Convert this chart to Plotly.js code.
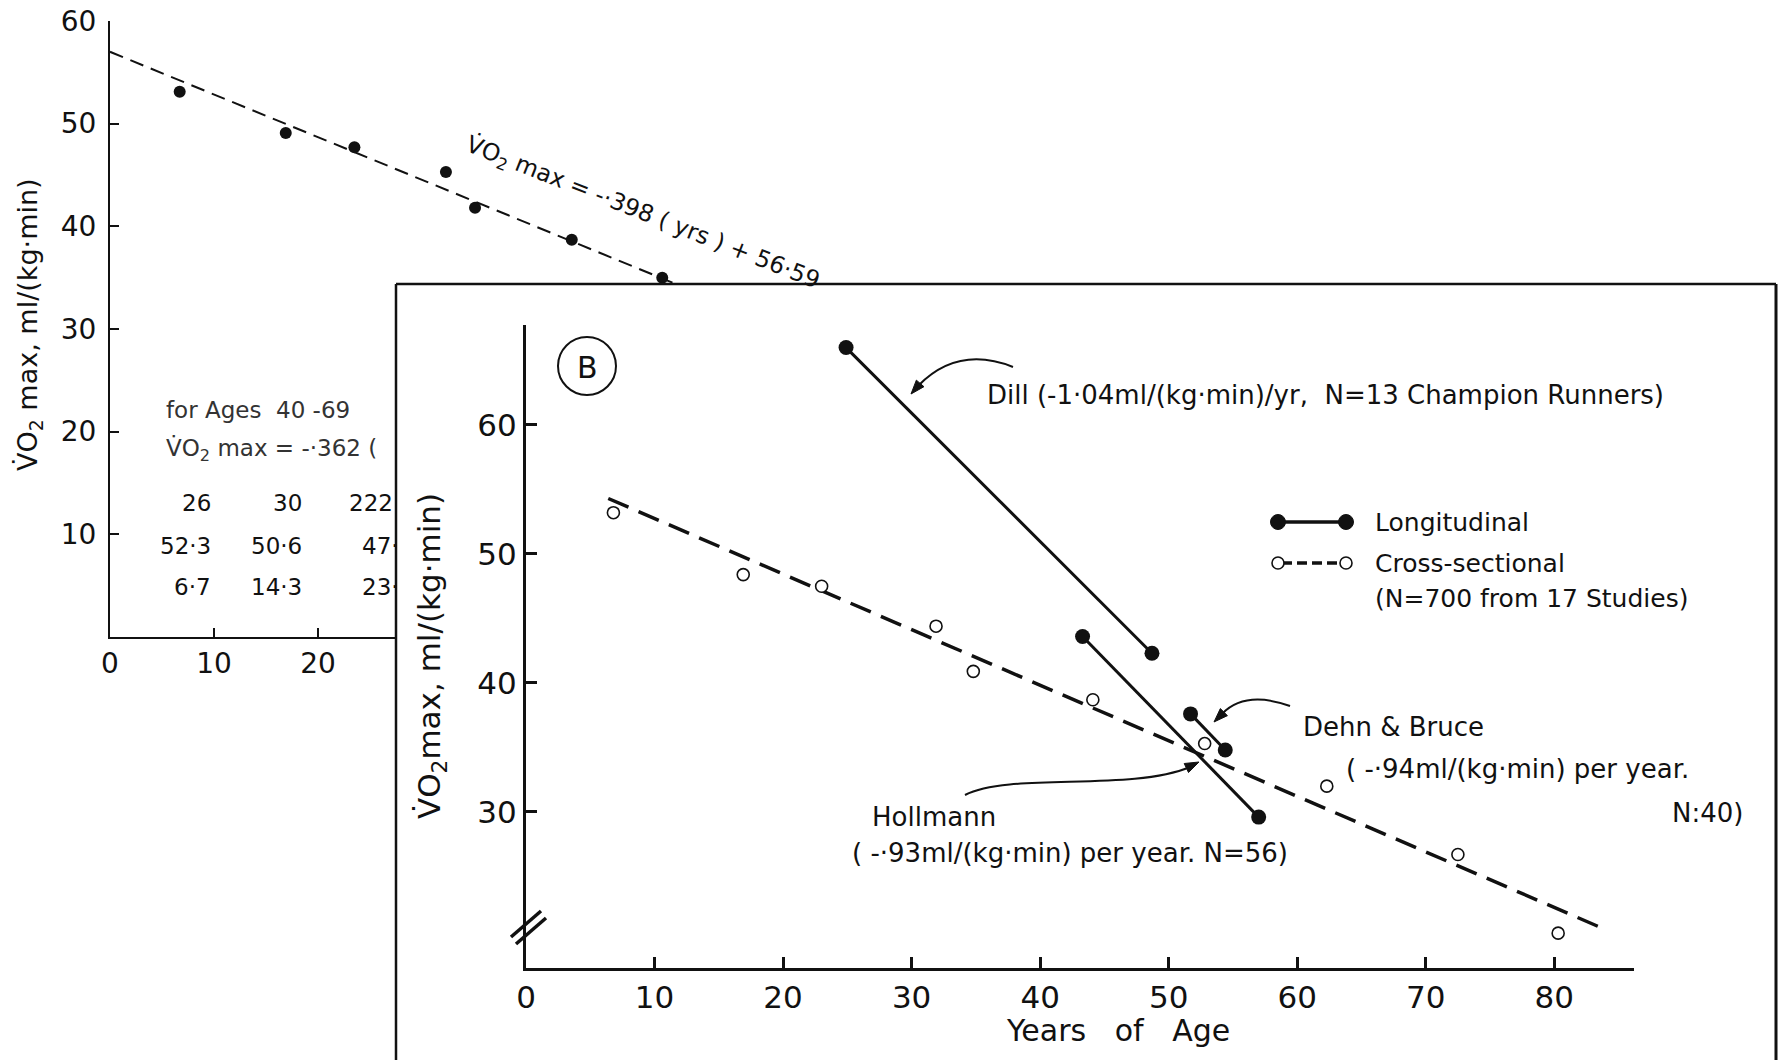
<!DOCTYPE html>
<html><head><meta charset="utf-8">
<script src="https://cdn.plot.ly/plotly-3.0.1.min.js"></script>
<style>html,body{margin:0;padding:0;background:#fff}#chart{width:1779px;height:1060px}</style>
</head><body><div id="chart"></div>
<script>
// ---------- Panel A (background figure) ----------
const ageA = [6.7, 16.9, 23.5, 32.3, 35.1, 44.4, 53.1];
const vo2A = [53.1, 49.1, 47.7, 45.3, 41.8, 38.7, 35.0];
const fitAgeA = [0, 70];
const fitVo2A = [57.0, 27.9];
const ticksAx = [0, 10, 20];
const ticksAy = [10, 20, 30, 40, 50, 60];
const tableN = ['26', '30', '222'];
const tableV = ['52·3', '50·6', '47·'];
const tableAge = ['6·7', '14·3', '23·'];

// ---------- Panel B (front figure) ----------
const dillAge = [24.9, 48.7];
const dillVo2 = [66.0, 42.3];
const hollAge = [43.3, 57.0];
const hollVo2 = [43.6, 29.6];
const dehnAge = [51.7, 54.4];
const dehnVo2 = [37.6, 34.8];
const crossAge = [6.8, 16.9, 23.0, 31.9, 34.8, 44.1, 52.8, 62.3, 72.5, 80.3];
const crossVo2 = [53.2, 48.4, 47.5, 44.4, 40.9, 38.7, 35.3, 32.0, 26.7, 20.6];
const crossFitAge = [6.4, 83.7];
const crossFitVo2 = [54.3, 21.0];
const ticksBx = [0, 10, 20, 30, 40, 50, 60, 70, 80];
const ticksBy = [30, 40, 50, 60];

// ---------- helpers (pixel -> paper) ----------
const W = 1779, H = 1060;
const PX = x => x / W;
const PY = y => 1 - y / H;
const FONT = 'DejaVu Sans, Verdana, sans-serif';
const INK = '#111';

function pathP(cmds) {
  return cmds.map(c => c[0] + ' ' + c.slice(1).map((v, i) => (i % 2 === 0 ? PX(v) : PY(v)).toFixed(5)).join(' ')).join(' ');
}
function arrowHead(tx, ty, fx, fy) {
  const dx = tx - fx, dy = ty - fy, L = Math.hypot(dx, dy);
  const ux = dx / L, uy = dy / L, len = 14, hw = 5;
  const bx = tx - ux * len, by = ty - uy * len;
  return {type: 'path', xref: 'paper', yref: 'paper', layer: 'above',
    path: pathP([['M', tx, ty], ['L', bx - uy * hw, by + ux * hw], ['L', bx + uy * hw, by - ux * hw], ['Z']]),
    fillcolor: INK, line: {color: INK, width: 1}};
}
function lineShape(x0, y0, x1, y1, w, dash) {
  return {type: 'line', xref: 'paper', yref: 'paper', layer: 'above',
    x0: PX(x0), y0: PY(y0), x1: PX(x1), y1: PY(y1), line: {color: INK, width: w, dash: dash || 'solid'}};
}
function circleShape(cx, cy, r, fill, w) {
  return {type: 'circle', xref: 'paper', yref: 'paper', layer: 'above',
    x0: PX(cx - r), x1: PX(cx + r), y0: PY(cy + r), y1: PY(cy - r),
    fillcolor: fill, line: {color: INK, width: w}};
}
function ann(text, x, y, size, xanchor, extra) {
  return Object.assign({text: text, xref: 'paper', yref: 'paper', x: PX(x), y: PY(y),
    xanchor: xanchor || 'left', yanchor: 'middle', showarrow: false,
    font: {family: FONT, size: size, color: INK}}, extra || {});
}

// ---------- traces ----------
const traces = [
  {x: fitAgeA, y: fitVo2A, xaxis: 'x', yaxis: 'y', mode: 'lines',
   line: {color: INK, width: 2, dash: '14px,8px'}, hoverinfo: 'skip'},
  {x: ageA, y: vo2A, xaxis: 'x', yaxis: 'y', mode: 'markers',
   marker: {color: INK, size: 12}, hoverinfo: 'skip'},
  {x: [], y: [], xaxis: 'x2', yaxis: 'y2', mode: 'markers', hoverinfo: 'skip'},
  {x: crossFitAge, y: crossFitVo2, xaxis: 'x3', yaxis: 'y3', mode: 'lines',
   line: {color: INK, width: 3.5, dash: '22px,11px'}, hoverinfo: 'skip', cliponaxis: false},
  {x: crossAge, y: crossVo2, xaxis: 'x3', yaxis: 'y3', mode: 'markers',
   marker: {color: '#fff', size: 12, line: {color: INK, width: 1.6}}, hoverinfo: 'skip', cliponaxis: false},
  {x: dillAge, y: dillVo2, xaxis: 'x3', yaxis: 'y3', mode: 'lines+markers',
   line: {color: INK, width: 3}, marker: {color: INK, size: 15}, hoverinfo: 'skip', cliponaxis: false},
  {x: hollAge, y: hollVo2, xaxis: 'x3', yaxis: 'y3', mode: 'lines+markers',
   line: {color: INK, width: 3}, marker: {color: INK, size: 15}, hoverinfo: 'skip', cliponaxis: false},
  {x: dehnAge, y: dehnVo2, xaxis: 'x3', yaxis: 'y3', mode: 'lines+markers',
   line: {color: INK, width: 3}, marker: {color: INK, size: 15}, hoverinfo: 'skip', cliponaxis: false}
];

// ---------- layout ----------
const axA = {showgrid: false, zeroline: false, showline: true, linecolor: INK, linewidth: 2,
  ticks: 'inside', ticklen: 9, tickwidth: 2, tickcolor: INK, fixedrange: true,
  tickfont: {family: FONT, size: 28, color: INK}};
const axB = {showgrid: false, zeroline: false, showline: true, linecolor: INK, linewidth: 3,
  ticks: 'inside', ticklen: 11, tickwidth: 3, tickcolor: INK, fixedrange: true,
  tickfont: {family: FONT, size: 31, color: INK}};

const shapes = [
  // panel B frame
  lineShape(396, 284, 1776, 284, 2.5),
  lineShape(396, 284, 396, 1062, 2.5),
  lineShape(1776, 284, 1776, 1062, 3),
  // circled B
  circleShape(587, 366, 29, 'rgba(0,0,0,0)', 2),
  // legend samples
  lineShape(1278, 522, 1346, 522, 3.5),
  circleShape(1278, 522, 7.5, INK, 1),
  circleShape(1346, 522, 7.5, INK, 1),
  lineShape(1282, 563, 1342, 563, 3.5, '10px,5px'),
  circleShape(1278, 563, 6, '#fff', 1.6),
  circleShape(1346, 563, 6, '#fff', 1.6),
  // y-axis break marks
  lineShape(511, 937, 541, 911, 3.5),
  lineShape(516, 944, 546, 918, 3.5),
  // curved arrows
  {type: 'path', xref: 'paper', yref: 'paper', layer: 'above',
   path: pathP([['M', 1013, 367], ['Q', 958, 345, 918, 386]]), line: {color: INK, width: 2}},
  arrowHead(911, 394, 930, 372),
  {type: 'path', xref: 'paper', yref: 'paper', layer: 'above',
   path: pathP([['M', 1290, 706], ['Q', 1245, 690, 1222, 714]]), line: {color: INK, width: 2}},
  arrowHead(1214, 722, 1232, 704),
  {type: 'path', xref: 'paper', yref: 'paper', layer: 'above',
   path: pathP([['M', 965, 795], ['C', 1010, 772, 1130, 792, 1190, 767]]), line: {color: INK, width: 2}},
  arrowHead(1199, 762, 1178, 772)
];

const annotations = [
  // panel A
  ann('V\u0307O<sub>2</sub> max, ml/(kg·min)', 29, 325, 27, 'center', {textangle: -90}),
  ann('V\u0307O<sub>2</sub> max = -·398 ( yrs ) + 56·59', 643, 213, 23.5, 'center', {textangle: 21.5}),
  ann('for Ages  40 -69', 164, 410, 23, 'left', {font: {family: FONT, size: 23, color: '#333'}}),
  ann('V\u0307O<sub>2</sub> max = -·362 (', 164, 450, 23, 'left', {font: {family: FONT, size: 23, color: '#333'}}),
  ann(tableN[0], 213, 503, 23, 'right'), ann(tableN[1], 304, 503, 23, 'right'), ann(tableN[2], 347, 503, 23, 'left'),
  ann(tableV[0], 213, 546, 23, 'right'), ann(tableV[1], 304, 546, 23, 'right'), ann(tableV[2], 360, 546, 23, 'left'),
  ann(tableAge[0], 213, 587, 23, 'right'), ann(tableAge[1], 304, 587, 23, 'right'), ann(tableAge[2], 360, 587, 23, 'left'),
  // panel B
  ann('B', 587, 367, 30, 'center'),
  ann('V\u0307O<sub>2</sub>max, ml/(kg·min)', 431, 656, 31, 'center', {textangle: -90}),
  ann('Years\u00a0\u00a0 of\u00a0\u00a0 Age', 1118, 1030, 30, 'center'),
  ann('Dill (-1·04ml/(kg·min)/yr,\u00a0\u00a0N=13 Champion Runners)', 985, 395, 26, 'left'),
  ann('Longitudinal', 1373, 522, 25, 'left'),
  ann('Cross-sectional', 1373, 563, 25, 'left'),
  ann('(N=700 from 17 Studies)', 1373, 598, 25, 'left'),
  ann('Dehn & Bruce', 1301, 727, 26, 'left'),
  ann('( -·94ml/(kg·min) per year.', 1344, 769, 26, 'left'),
  ann('N:40)', 1745, 813, 26, 'right'),
  ann('Hollmann', 870, 817, 26, 'left'),
  ann('( -·93ml/(kg·min) per year. N=56)', 850, 853, 26, 'left')
];

const layout = {
  width: W, height: H,
  margin: {l: 0, r: 0, t: 0, b: 0, pad: 0},
  paper_bgcolor: '#ffffff', plot_bgcolor: '#ffffff',
  showlegend: false,
  font: {family: FONT, color: INK},
  xaxis: Object.assign({}, axA, {domain: [PX(110), PX(890)], range: [0, 75], anchor: 'y', tickvals: ticksAx}),
  yaxis: Object.assign({}, axA, {domain: [PY(637), PY(21)], range: [0, 60], anchor: 'x', tickvals: ticksAy, ticklabelstandoff: 6}),
  xaxis2: {domain: [PX(397), 1], range: [0, 1], anchor: 'y2', visible: false, fixedrange: true},
  yaxis2: {domain: [0, PY(285)], range: [0, 1], anchor: 'x2', visible: false, fixedrange: true},
  xaxis3: Object.assign({}, axB, {domain: [PX(526), PX(1634)], range: [0, 86.2], anchor: 'y3', tickvals: ticksBx}),
  yaxis3: Object.assign({}, axB, {domain: [PY(968), PY(325)], range: [17.9, 67.75], anchor: 'x3', tickvals: ticksBy}),
  shapes: shapes,
  annotations: annotations
};

Plotly.newPlot('chart', traces, layout, {staticPlot: true, displayModeBar: false});
</script>
</body></html>
